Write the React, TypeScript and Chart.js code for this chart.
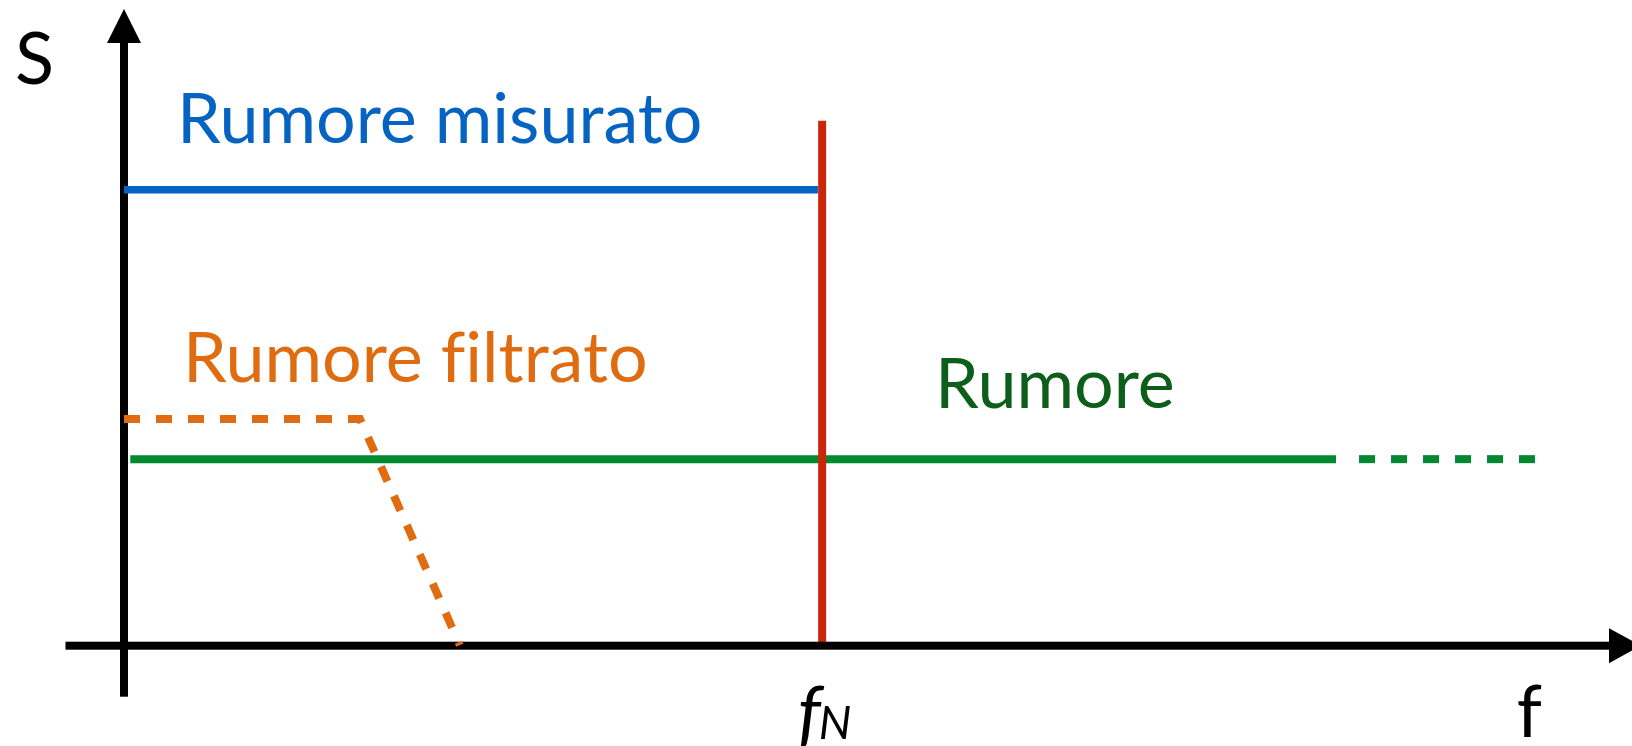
import { useEffect, useRef } from 'react';
import { Chart, registerables } from 'chart.js';

Chart.register(...registerables);

// Frequency axis in units of the Nyquist frequency f_N, spectrum S in arbitrary units
const measuredF = [0, 0.994];
const measuredS = [7.16, 7.16];
const filteredF = [0, 0.338, 0.481];
const filteredS = [3.56, 3.56, 0.01];
const noiseF = [0.009, 1.736];
const noiseS = [2.93, 2.93];
const noiseTailF = [1.769, 2.021];
const noiseTailS = [2.93, 2.93];
const nyquistF = [1, 1];
const nyquistS = [0, 8.245];

const F_MAX = 2.16;
const S_MAX = 10;

const BLUE = '#0563C1';
const ORANGE = '#E06C12';
const GREEN = '#00892E';
const GREEN_TEXT = '#0C5E1A';
const RED = '#C9260B';

type Label = { text: string; x: number; y: number; color: string; size: number; italic?: boolean };
const labels: Label[] = [
  { text: 'S', x: -0.156, y: 8.82, color: '#000000', size: 72 },
  { text: 'Rumore misurato', x: 0.0759, y: 7.894, color: BLUE, size: 70 },
  { text: 'Rumore filtrato', x: 0.0845, y: 4.142, color: ORANGE, size: 70 },
  { text: 'Rumore', x: 1.1617, y: 3.733, color: GREEN_TEXT, size: 70 },
  { text: 'f', x: 1.995, y: -1.435, color: '#000000', size: 72 },
  { text: 'f', x: 0.965, y: -1.45, color: '#000000', size: 72, italic: true },
  { text: 'N', x: 0.995, y: -1.47, color: '#000000', size: 46, italic: true },
];

const pts = (xs: number[], ys: number[]) => xs.map((x, i) => ({ x, y: ys[i] }));

const FONT = 'Lato, "Open Sans", sans-serif';

export default function App() {
  const ref = useRef<HTMLCanvasElement | null>(null);

  useEffect(() => {
    document.body.style.margin = '0';
    const canvas = ref.current;
    if (!canvas) return;

    const axesPlugin = {
      id: 'arrowAxes',
      afterDatasetDraw(chart: any, args: any) {
        if (args.index !== 2) return;
        const { ctx, chartArea } = chart;
        const xs = chart.scales.x;
        const ys = chart.scales.y;
        const ox = xs.getPixelForValue(0);
        const oy = ys.getPixelForValue(0);
        const top = chartArea.top;
        const right = chartArea.right;
        ctx.save();
        ctx.fillStyle = '#000';
        // vertical axis
        ctx.fillRect(ox - 4, top + 30, 8, oy + 51 - (top + 30));
        ctx.beginPath();
        ctx.moveTo(ox, top);
        ctx.lineTo(ox - 17, top + 34);
        ctx.lineTo(ox + 17, top + 34);
        ctx.closePath();
        ctx.fill();
        // horizontal axis
        ctx.fillRect(ox - 58.5, oy - 4, right - 20 - (ox - 58.5), 8);
        ctx.beginPath();
        ctx.moveTo(right + 9, oy);
        ctx.lineTo(right - 23, oy - 17.5);
        ctx.lineTo(right - 23, oy + 17.5);
        ctx.closePath();
        ctx.fill();
        ctx.restore();
      },
      afterDraw(chart: any) {
        const { ctx } = chart;
        const xs = chart.scales.x;
        const ys = chart.scales.y;
        ctx.save();
        ctx.textBaseline = 'alphabetic';
        ctx.textAlign = 'left';
        try { (ctx as any).letterSpacing = '0.01px'; } catch (e) { /* ignore */ }
        for (const l of labels) {
          ctx.font = `${l.italic ? 'italic ' : ''}${l.size}px ${FONT}`;
          ctx.fillStyle = l.color;
          ctx.fillText(l.text, xs.getPixelForValue(l.x), ys.getPixelForValue(l.y));
        }
        ctx.restore();
      },
    };

    const common = { borderWidth: 8, pointRadius: 0, borderCapStyle: 'butt', fill: false, tension: 0, clip: false };

    const chart = new Chart(canvas, {
      type: 'line',
      data: {
        datasets: [
          { ...common, label: 'Rumore filtrato', data: pts(filteredF, filteredS), borderColor: ORANGE, borderDash: [16, 16], borderJoinStyle: 'miter' },
          { ...common, label: 'Rumore misurato', data: pts(measuredF, measuredS), borderColor: BLUE, borderWidth: 7.5 },
          { ...common, label: 'f_N', data: pts(nyquistF, nyquistS), borderColor: RED },
          { ...common, label: 'Rumore', data: pts(noiseF, noiseS), borderColor: GREEN },
          { ...common, label: 'Rumore (oltre)', data: pts(noiseTailF, noiseTailS), borderColor: GREEN, borderDash: [16, 16] },
        ] as any,
      },
      options: {
        animation: false,
        responsive: false,
        devicePixelRatio: 1,
        parsing: false,
        layout: { padding: { left: 124, right: 0, top: 9, bottom: 100.3 } },
        plugins: { legend: { display: false }, tooltip: { enabled: false } },
        events: [],
        scales: {
          x: { type: 'linear', min: 0, max: F_MAX, display: false },
          y: { type: 'linear', min: 0, max: S_MAX, display: false },
        },
      } as any,
      plugins: [axesPlugin],
    });
    return () => chart.destroy();
  }, []);

  return (
    <div style={{ width: 1632, height: 746, background: '#fff' }}>
      <canvas ref={ref} width={1632} height={746} style={{ display: 'block' }} />
    </div>
  );
}
